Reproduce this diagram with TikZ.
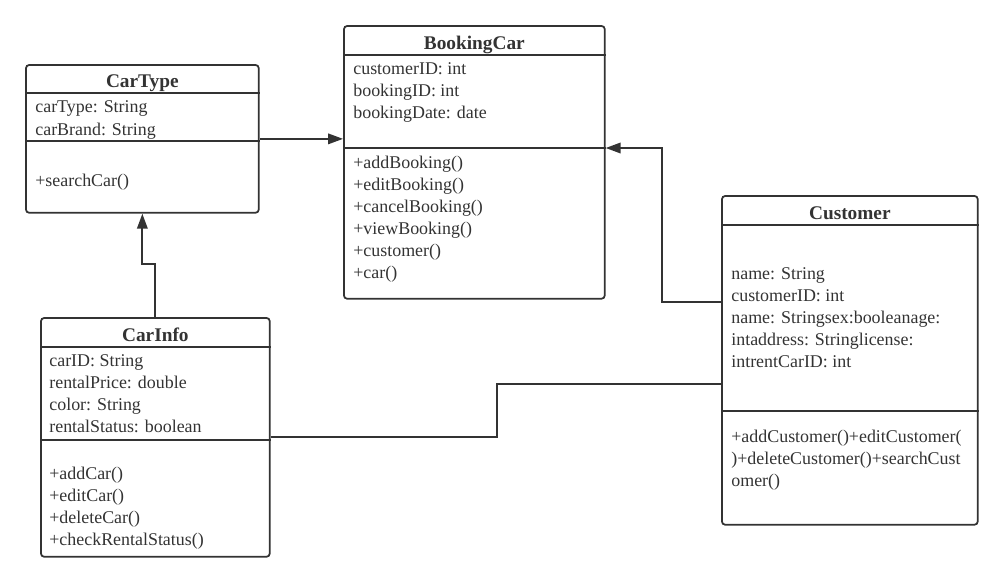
\documentclass[tikz,border=0pt]{standalone}
\usepackage{fontspec}
\setmainfont{Liberation Serif}
\usetikzlibrary{arrows.meta,calc}
\definecolor{ink}{HTML}{333333}
\tikzset{>={Triangle[length=8.5pt,width=6pt]},
  cls/.style={draw=ink,line width=1pt,rounded corners=2pt,anchor=north west,inner sep=0pt},
  ttl/.style={anchor=base,font=\fontsize{11}{13}\selectfont\bfseries,text=ink,inner sep=0pt},
  txt/.style={anchor=base west,font=\fontsize{10.2}{12}\selectfont,text=ink,inner sep=0pt},
  sep/.style={draw=ink,line width=1pt},assoc/.style={draw=ink,line width=1pt,->},link/.style={draw=ink,line width=1pt}}

\begin{document}
\begin{tikzpicture}[x=0.02cm,y=-0.02cm]
\useasboundingbox (0,0) rectangle (1002,582);
% class boxes
\node[cls,minimum width=4.66cm,minimum height=2.96cm] (cartype) at (25,64) {};
\node[cls,minimum width=5.22cm,minimum height=5.46cm] (booking) at (343,25) {};
\node[cls,minimum width=5.12cm,minimum height=6.58cm] (customer) at (721,195) {};
\node[cls,minimum width=4.58cm,minimum height=4.78cm] (carinfo) at (40,317) {};
% compartments
\draw[sep] ($(cartype.north west)+(0,29)$)--($(cartype.north east)+(0,29)$);\draw[sep] ($(cartype.north west)+(0,77)$)--($(cartype.north east)+(0,77)$);
\draw[sep] ($(booking.north west)+(0,30)$)--($(booking.north east)+(0,30)$);\draw[sep] ($(booking.north west)+(0,123)$)--($(booking.north east)+(0,123)$);
\draw[sep] ($(customer.north west)+(0,30)$)--($(customer.north east)+(0,30)$);\draw[sep] ($(customer.north west)+(0,216)$)--($(customer.north east)+(0,216)$);
\draw[sep] ($(carinfo.north west)+(0,30)$)--($(carinfo.north east)+(0,30)$);\draw[sep] ($(carinfo.north west)+(0,123)$)--($(carinfo.north east)+(0,123)$);
% titles
\node[ttl] (cartype-t) at ($(cartype.north)+(0,23)$){CarType};\node[ttl] (booking-t) at ($(booking.north)+(0,24)$){BookingCar};
\node[ttl] (customer-t) at ($(customer.north)+(0,24)$){Customer};\node[ttl] (carinfo-t) at ($(carinfo.north)+(0,24)$){CarInfo};
% members
\foreach \t [count=\i] in {carType: String,carBrand: String}{\node[txt] (cartype-a\i) at (35,{112+23*(\i-1)}){\t};}
\node[txt] (cartype-m1) at (35,186){+searchCar()};
\foreach \t [count=\i] in {customerID: int,bookingID: int,bookingDate: date}{\node[txt] (booking-a\i) at (353,{74+22*(\i-1)}){\t};}
\foreach \t [count=\i] in {+addBooking(),+editBooking(),+cancelBooking(),+viewBooking(),+customer(),+car()}{\node[txt] (booking-m\i) at (353,{168+22*(\i-1)}){\t};}
\foreach \t [count=\i] in {name: String,customerID: int,name: Stringsex:booleanage:,intaddress: Stringlicense:,intrentCarID: int}{\node[txt] (customer-a\i) at (731,{279+22*(\i-1)}){\t};}
\foreach \t [count=\i] in {+addCustomer()+editCustomer(,)+deleteCustomer()+searchCust,omer()}{\node[txt] (customer-m\i) at (731,{442+22*(\i-1)}){\t};}
\foreach \t [count=\i] in {carID: String,rentalPrice: double,color: String,rentalStatus: boolean}{\node[txt] (carinfo-a\i) at (49,{366+22*(\i-1)}){\t};}
\foreach \t [count=\i] in {+addCar(),+editCar(),+deleteCar(),+checkRentalStatus()}{\node[txt] (carinfo-m\i) at (49,{479+22*(\i-1)}){\t};}
% connectors
\draw[assoc] (cartype.east)--(cartype.east -| booking.west);
\draw[assoc] ($(customer.north west)+(0,107)$)--++(-59,0)|-($(booking.north east)+(0,123)$);
\draw[assoc] (carinfo.north)--++(0,-53)-|(cartype.south);
\draw[link] (carinfo.east)--++(226,0)|-($(customer.north west)+(0,189)$);
\end{tikzpicture}
\end{document}
